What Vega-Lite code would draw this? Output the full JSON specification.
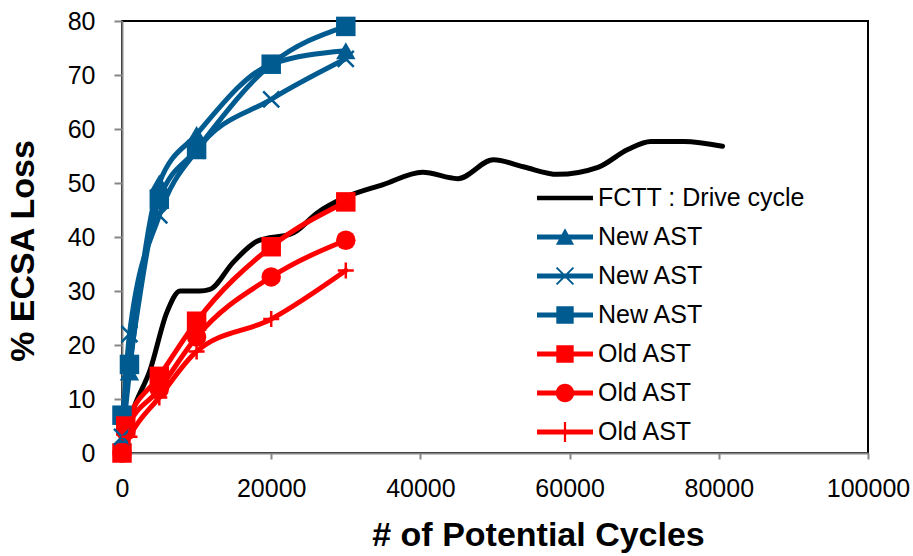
{
  "$schema": "https://vega.github.io/schema/vega-lite/v6.json",
  "width": 746,
  "height": 432,
  "autosize": {"type": "none"},
  "padding": {"left": 122, "top": 21, "right": 45, "bottom": 103},
  "background": "white",
  "config": {
    "font": "Liberation Sans",
    "view": {"stroke": "black", "strokeWidth": 2},
    "axis": {
      "grid": false,
      "labelFont": "Liberation Sans",
      "labelFontSize": 25,
      "labelColor": "black",
      "domainColor": "#868686",
      "domainWidth": 2,
      "tickColor": "#868686",
      "tickWidth": 2,
      "titleFont": "Liberation Sans",
      "titleFontSize": 34,
      "titleFontWeight": "bold",
      "titleColor": "black",
      "labelFlush": false,
      "labelOverlap": false,
      "zindex": 0
    },
    "legend": {
      "title": null,
      "orient": "none",
      "legendX": 429,
      "legendY": 163,
      "padding": 0,
      "symbolSize": 784,
      "symbolOpacity": 1,
      "symbolStrokeWidth": 0,
      "labelFontSize": 25,
      "labelFont": "Liberation Sans",
      "labelColor": "black",
      "labelOffset": 19,
      "rowPadding": 12,
      "labelLimit": 400
    }
  },
  "data": {
    "values": [
      {"series": "s1", "x": 0, "y": 1},
      {"series": "s1", "x": 1500, "y": 8},
      {"series": "s1", "x": 3800, "y": 15.5},
      {"series": "s1", "x": 6000, "y": 26},
      {"series": "s1", "x": 7800, "y": 30},
      {"series": "s1", "x": 10400, "y": 30},
      {"series": "s1", "x": 11800, "y": 30.3},
      {"series": "s1", "x": 14900, "y": 35.3},
      {"series": "s1", "x": 18100, "y": 39.2},
      {"series": "s1", "x": 23000, "y": 40.8},
      {"series": "s1", "x": 26200, "y": 44.5},
      {"series": "s1", "x": 29700, "y": 47.2},
      {"series": "s1", "x": 35000, "y": 49.7},
      {"series": "s1", "x": 40300, "y": 52},
      {"series": "s1", "x": 45000, "y": 50.8},
      {"series": "s1", "x": 49800, "y": 54.3},
      {"series": "s1", "x": 53800, "y": 53},
      {"series": "s1", "x": 58400, "y": 51.6},
      {"series": "s1", "x": 63800, "y": 52.9},
      {"series": "s1", "x": 67800, "y": 56.2},
      {"series": "s1", "x": 70900, "y": 57.7},
      {"series": "s1", "x": 75300, "y": 57.7},
      {"series": "s1", "x": 80500, "y": 56.8},
      {"series": "s2", "x": 0, "y": 2},
      {"series": "s2", "x": 1000, "y": 15},
      {"series": "s2", "x": 5000, "y": 50},
      {"series": "s2", "x": 10000, "y": 59},
      {"series": "s2", "x": 20000, "y": 72},
      {"series": "s2", "x": 30000, "y": 74.5},
      {"series": "s3", "x": 0, "y": 3},
      {"series": "s3", "x": 1000, "y": 22},
      {"series": "s3", "x": 5000, "y": 44},
      {"series": "s3", "x": 10000, "y": 56},
      {"series": "s3", "x": 20000, "y": 65.5},
      {"series": "s3", "x": 30000, "y": 73},
      {"series": "s4", "x": 0, "y": 7},
      {"series": "s4", "x": 1000, "y": 16.4},
      {"series": "s4", "x": 5000, "y": 47},
      {"series": "s4", "x": 10000, "y": 56.2},
      {"series": "s4", "x": 20000, "y": 72},
      {"series": "s4", "x": 30000, "y": 79},
      {"series": "s5", "x": 0, "y": 0},
      {"series": "s5", "x": 500, "y": 5},
      {"series": "s5", "x": 5000, "y": 14.2},
      {"series": "s5", "x": 10000, "y": 24.4},
      {"series": "s5", "x": 20000, "y": 38.2},
      {"series": "s5", "x": 30000, "y": 46.5},
      {"series": "s6", "x": 0, "y": 0},
      {"series": "s6", "x": 500, "y": 4},
      {"series": "s6", "x": 5000, "y": 11.8},
      {"series": "s6", "x": 10000, "y": 21.5},
      {"series": "s6", "x": 20000, "y": 32.6},
      {"series": "s6", "x": 30000, "y": 39.4},
      {"series": "s7", "x": 0, "y": 0},
      {"series": "s7", "x": 1000, "y": 3},
      {"series": "s7", "x": 5000, "y": 10.3},
      {"series": "s7", "x": 10000, "y": 18.8},
      {"series": "s7", "x": 20000, "y": 24.8},
      {"series": "s7", "x": 30000, "y": 33.8}
    ]
  },
  "layer": [
    {
      "mark": {"type": "line", "interpolate": "monotone", "strokeWidth": 5, "strokeCap": "round", "strokeJoin": "round"},
      "encoding": {
        "x": {
          "field": "x", "type": "quantitative",
          "scale": {"domain": [0, 100000], "nice": false, "zero": false},
          "axis": {
            "title": "# of Potential Cycles",
            "values": [0, 20000, 40000, 60000, 80000, 100000],
            "format": "d",
            "tickSize": 6,
            "labelPadding": 17,
            "titleX": 416,
            "titleY": 92,
            "titleAlign": "center",
            "titleBaseline": "alphabetic"
          }
        },
        "y": {
          "field": "y", "type": "quantitative",
          "scale": {"domain": [0, 80], "nice": false},
          "axis": {
            "title": "% ECSA Loss",
            "values": [0, 10, 20, 30, 40, 50, 60, 70, 80],
            "tickSize": 8,
            "labelPadding": 19,
            "titleX": -89,
            "titleY": 229.5,
            "titleAngle": 270,
            "titleAlign": "center",
            "titleBaseline": "alphabetic"
          }
        },
        "color": {
          "field": "series", "type": "nominal",
          "scale": {
            "domain": ["s1", "s2", "s3", "s4", "s5", "s6", "s7"],
            "range": ["#000000", "#005B91", "#005B91", "#005B91", "#FF0000", "#FF0000", "#FF0000"]
          },
          "legend": null
        }
      }
    },
    {
      "transform": [{"filter": {"field": "series", "oneOf": ["s2", "s4", "s5", "s6"]}}],
      "mark": {"type": "point", "filled": true, "opacity": 1, "size": 380},
      "encoding": {
        "x": {"field": "x", "type": "quantitative"},
        "y": {"field": "y", "type": "quantitative"},
        "color": {"field": "series", "type": "nominal", "legend": null},
        "shape": {
          "field": "series", "type": "nominal",
          "scale": {
            "domain": ["s1", "s2", "s3", "s4", "s5", "s6", "s7"],
            "range": ["circle", "triangle-up", "M-1,-1L1,1M-1,1L1,-1", "square", "square", "circle", "M-1,0H1M0,-1V1"]
          },
          "legend": null
        }
      }
    },
    {
      "transform": [{"filter": {"field": "series", "oneOf": ["s3", "s7"]}}],
      "mark": {"type": "point", "filled": false, "opacity": 1, "size": 256, "strokeWidth": 2.5},
      "encoding": {
        "x": {"field": "x", "type": "quantitative"},
        "y": {"field": "y", "type": "quantitative"},
        "color": {"field": "series", "type": "nominal", "legend": null},
        "shape": {
          "field": "series", "type": "nominal",
          "scale": {
            "domain": ["s1", "s2", "s3", "s4", "s5", "s6", "s7"],
            "range": ["circle", "triangle-up", "M-1,-1L1,1M-1,1L1,-1", "square", "square", "circle", "M-1,0H1M0,-1V1"]
          },
          "legend": null
        }
      }
    },
    {
      "mark": {"type": "point", "filled": true, "opacity": 0},
      "encoding": {
        "x": {"field": "x", "type": "quantitative"},
        "y": {"field": "y", "type": "quantitative"},
        "fill": {
          "field": "series", "type": "nominal",
          "scale": {
            "domain": ["s1", "s2", "s3", "s4", "s5", "s6", "s7"],
            "range": ["#000000", "#005B91", "#005B91", "#005B91", "#FF0000", "#FF0000", "#FF0000"]
          },
          "legend": {
            "labelExpr": "datum.value == 's1' ? 'FCTT : Drive cycle' : (datum.value == 's2' || datum.value == 's3' || datum.value == 's4') ? 'New AST' : 'Old AST'"
          }
        },
        "shape": {
          "field": "series", "type": "nominal",
          "scale": {
            "domain": ["s1", "s2", "s3", "s4", "s5", "s6", "s7"],
            "range": [
              "M-2,-0.16H2V0.16H-2Z",
              "M-2,-0.18H2V0.18H-2ZM0,-0.62L0.65,0.55L-0.65,0.55Z",
              "M-2,-0.18H2V0.18H-2ZM-0.55,-0.65L0.65,0.55L0.55,0.65L-0.65,-0.55ZM-0.65,0.55L0.55,-0.65L0.65,-0.55L-0.55,0.65Z",
              "M-2,-0.18H2V0.18H-2ZM-0.62,-0.62H0.62V0.62H-0.62Z",
              "M-2,-0.18H2V0.18H-2ZM-0.62,-0.62H0.62V0.62H-0.62Z",
              "M-2,-0.18H-0.5V0.18H-2ZM0.5,-0.18H2V0.18H0.5ZM0.66,0A0.66,0.66,0,1,1,-0.66,0A0.66,0.66,0,1,1,0.66,0Z",
              "M-2,-0.18H2V0.18H-2ZM-0.08,-0.72H0.08V0.72H-0.08Z"
            ]
          },
          "legend": {
            "labelExpr": "datum.value == 's1' ? 'FCTT : Drive cycle' : (datum.value == 's2' || datum.value == 's3' || datum.value == 's4') ? 'New AST' : 'Old AST'"
          }
        }
      }
    }
  ],
  "resolve": {"scale": {"shape": "independent", "fill": "independent"}}
}
